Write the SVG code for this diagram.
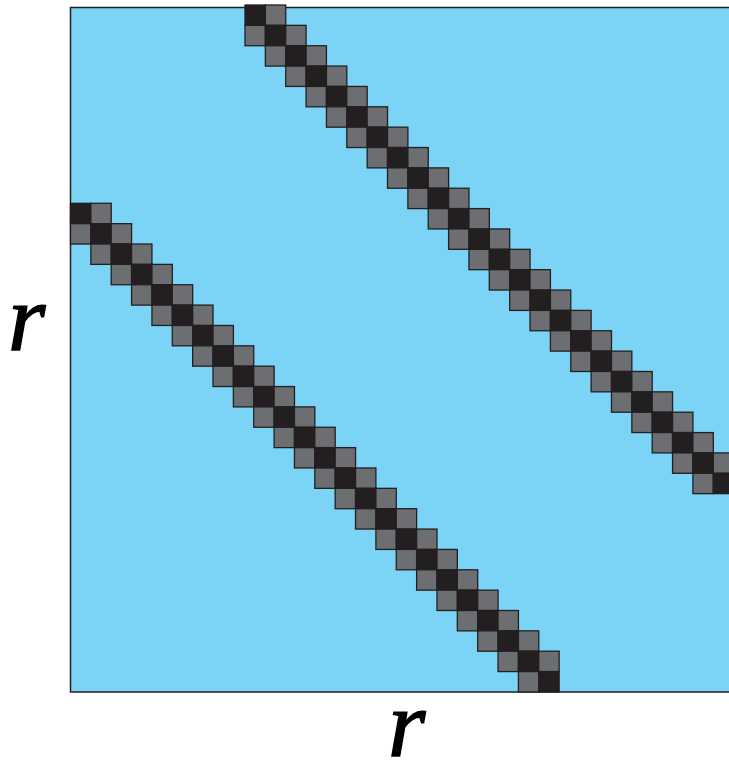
<svg xmlns="http://www.w3.org/2000/svg" xmlns:xlink="http://www.w3.org/1999/xlink" width="729" height="762" viewBox="0 0 729 762">
<style>
.g{fill:#6d6e71;stroke:#231f20;stroke-width:1.3}
.b{fill:#231f20;stroke:#231f20;stroke-width:1.3}
.lbl{font-family:"Liberation Serif","DejaVu Serif",serif;font-style:italic;font-size:96px;fill:#000;stroke:#000;stroke-width:1.4}
</style>
<defs>
<g id="row"><rect class="g" x="-20.36" y="0" width="20.36" height="20.36"/><rect class="b" x="0" y="0" width="20.36" height="20.36"/><rect class="g" x="20.36" y="0" width="20.36" height="20.36"/></g>
<g id="rowR"><rect class="b" x="0" y="0" width="20.36" height="20.36"/><rect class="g" x="20.36" y="0" width="20.36" height="20.36"/></g>
<g id="rowL"><rect class="g" x="-20.36" y="0" width="20.36" height="20.36"/><rect class="b" x="0" y="0" width="20.36" height="20.36"/></g>
</defs>
<rect id="matrix" x="70.5" y="7.5" width="700" height="684.5" fill="#7bd3f6" stroke="#231f20" stroke-width="1.5"/>
<g id="upper-band">
<use href="#rowR" x="245" y="5"/>
<use href="#row" x="265.36" y="25.36"/>
<use href="#row" x="285.72" y="45.72"/>
<use href="#row" x="306.08" y="66.08"/>
<use href="#row" x="326.44" y="86.44"/>
<use href="#row" x="346.8" y="106.8"/>
<use href="#row" x="367.16" y="127.16"/>
<use href="#row" x="387.52" y="147.52"/>
<use href="#row" x="407.88" y="167.88"/>
<use href="#row" x="428.24" y="188.24"/>
<use href="#row" x="448.6" y="208.6"/>
<use href="#row" x="468.96" y="228.96"/>
<use href="#row" x="489.32" y="249.32"/>
<use href="#row" x="509.68" y="269.68"/>
<use href="#row" x="530.04" y="290.04"/>
<use href="#row" x="550.4" y="310.4"/>
<use href="#row" x="570.76" y="330.76"/>
<use href="#row" x="591.12" y="351.12"/>
<use href="#row" x="611.48" y="371.48"/>
<use href="#row" x="631.84" y="391.84"/>
<use href="#row" x="652.2" y="412.2"/>
<use href="#row" x="672.56" y="432.56"/>
<use href="#row" x="692.92" y="452.92"/>
<use href="#row" x="713.28" y="473.28"/>
</g>
<g id="lower-band">
<use href="#rowR" x="70.5" y="203.3"/>
<use href="#row" x="90.86" y="223.66"/>
<use href="#row" x="111.22" y="244.02"/>
<use href="#row" x="131.58" y="264.38"/>
<use href="#row" x="151.94" y="284.74"/>
<use href="#row" x="172.3" y="305.1"/>
<use href="#row" x="192.66" y="325.46"/>
<use href="#row" x="213.02" y="345.82"/>
<use href="#row" x="233.38" y="366.18"/>
<use href="#row" x="253.74" y="386.54"/>
<use href="#row" x="274.1" y="406.9"/>
<use href="#row" x="294.46" y="427.26"/>
<use href="#row" x="314.82" y="447.62"/>
<use href="#row" x="335.18" y="467.98"/>
<use href="#row" x="355.54" y="488.34"/>
<use href="#row" x="375.9" y="508.7"/>
<use href="#row" x="396.26" y="529.06"/>
<use href="#row" x="416.62" y="549.42"/>
<use href="#row" x="436.98" y="569.78"/>
<use href="#row" x="457.34" y="590.14"/>
<use href="#row" x="477.7" y="610.5"/>
<use href="#row" x="498.06" y="630.86"/>
<use href="#row" x="518.42" y="651.22"/>
<use href="#rowL" x="538.78" y="671.58"/>
</g>
<g id="labels">
<text class="lbl" x="8" y="350">r</text>
<text class="lbl" x="388" y="756">r</text>
</g>
</svg>
